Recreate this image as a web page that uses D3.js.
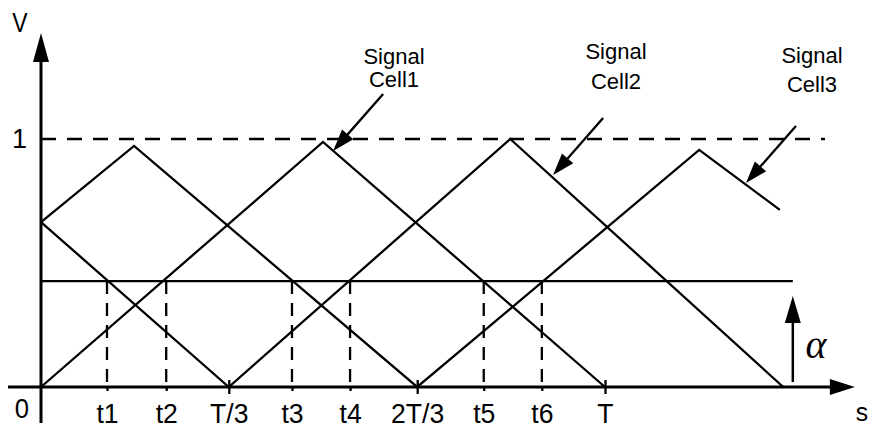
<!DOCTYPE html>
<html>
<head>
<meta charset="utf-8">
<script src="https://cdn.jsdelivr.net/npm/d3@7"></script>
<style>
  html, body { margin: 0; padding: 0; background: #fff; }
  svg { display: block; }
  text { font-family: "Liberation Sans", Arial, sans-serif; fill: #000; }
</style>
</head>
<body>
<svg id="chart" width="869" height="429"></svg>
<script>
// ---- data (time in units of T, voltage normalised) ----
const cell1 = [{t:0, v:0}, {t:0.5, v:0.988}, {t:1.0, v:0}];
const cell2 = [{t:0, v:0.665}, {t:0.333, v:0}, {t:0.832, v:1.0}, {t:1.316, v:0}];
const cell3 = [{t:0, v:0.665}, {t:0.165, v:0.972}, {t:0.667, v:0}, {t:1.167, v:0.956}, {t:1.31, v:0.714}];
const alphaLevel = 0.427;
const alphaEnd = 1.333;
const refLevel = 1.0;
const refEnd = 1.39;
const xTickValues = [0.117, 0.222, 0.333, 0.445, 0.548, 0.667, 0.785, 0.888, 1.0];
const xTickLabels = ["t1", "t2", "T/3", "t3", "t4", "2T/3", "t5", "t6", "T"];
const crossingTicks = ["t1", "t2", "t3", "t4", "t5", "t6"];
const yTickValues = [1];
const yTickLabels = ["1"];
const annotations = [
  {name: "Cell1", tip: {t:0.518, v:0.952}},
  {name: "Cell2", tip: {t:0.908, v:0.855}},
  {name: "Cell3", tip: {t:1.25,  v:0.823}}
];

// ---- layout ----
const svg = d3.select("#chart");
const x = d3.scaleLinear().domain([0, 1]).range([41, 605]);
const y = d3.scaleLinear().domain([0, 1]).range([387, 139]);
const line = d3.line().x(d => x(d.t)).y(d => y(d.v));
const FONT = "'Liberation Sans', Arial, sans-serif";

function arrowHead(tx, ty, dx, dy, L, W) {
  const len = Math.hypot(dx, dy); dx /= len; dy /= len;
  const nx = -dy, ny = dx;
  const bx = tx - dx * L, by = ty - dy * L;
  svg.append("path")
    .attr("d", `M${tx},${ty}L${bx + nx * W},${by + ny * W}L${bx - nx * W},${by - ny * W}Z`)
    .attr("fill", "#000");
}
function label(cx, by, txt, size, sx) {
  svg.append("text")
    .attr("transform", `translate(${cx},${by}) scale(${sx},1)`)
    .attr("text-anchor", "middle")
    .style("font-size", size + "px").style("font-family", FONT)
    .text(txt);
}

// reference level 1 (dashed)
svg.append("line")
  .attr("x1", x(0)).attr("x2", x(refEnd))
  .attr("y1", y(refLevel)).attr("y2", y(refLevel))
  .attr("stroke", "#000").attr("stroke-width", 2.4)
  .attr("stroke-dasharray", "15,11");

// alpha level
svg.append("line")
  .attr("x1", x(0)).attr("x2", x(alphaEnd))
  .attr("y1", y(alphaLevel)).attr("y2", y(alphaLevel))
  .attr("stroke", "#000").attr("stroke-width", 2.3);

// vertical dashed lines at crossing times
xTickValues.forEach((tv, i) => {
  if (crossingTicks.includes(xTickLabels[i])) {
    svg.append("line")
      .attr("x1", x(tv)).attr("x2", x(tv))
      .attr("y1", y(alphaLevel)).attr("y2", y(0))
      .attr("stroke", "#000").attr("stroke-width", 2.3)
      .attr("stroke-dasharray", "13,9");
  }
});

// carrier waves
[cell1, cell2, cell3].forEach(s => {
  svg.append("path").attr("d", line(s))
    .attr("fill", "none").attr("stroke", "#000")
    .attr("stroke-width", 2.3).attr("stroke-linejoin", "miter");
});

// x axis (ticks + labels through d3 axis)
const xAxis = d3.axisBottom(x)
  .tickValues(xTickValues)
  .tickFormat((d, i) => xTickLabels[i])
  .tickSize(7)
  .tickPadding(0);
const gx = svg.append("g").attr("transform", `translate(0,${y(0)})`).call(xAxis);
gx.select(".domain").remove();
gx.selectAll(".tick line")
  .attr("stroke", "#000").attr("stroke-width", 2.3)
  .attr("y1", (d, i) => crossingTicks.includes(xTickLabels[i]) ? 0 : -7)
  .attr("y2", (d, i) => crossingTicks.includes(xTickLabels[i]) ? 4 : 7);
gx.selectAll(".tick text")
  .attr("y", 0).attr("dy", "0")
  .attr("transform", "translate(0,36) scale(0.95,1)")
  .style("font-size", "28px")
  .style("font-family", FONT)
  .attr("fill", "#000");

// y axis (tick label "1" through d3 axis)
const yAxis = d3.axisLeft(y)
  .tickValues(yTickValues)
  .tickFormat((d, i) => yTickLabels[i])
  .tickSize(0)
  .tickPadding(14);
const gy = svg.append("g").attr("transform", `translate(${x(0)},0)`).call(yAxis);
gy.select(".domain").remove();
gy.selectAll(".tick text")
  .attr("dy", "0.3em")
  .style("font-size", "27px")
  .style("font-family", FONT)
  .attr("fill", "#000");

// axis lines with arrows
const xStart = -0.0585, xTip = 1.443;
const yBottom = -0.145, yTip = 1.427;
svg.append("line")
  .attr("x1", x(xStart)).attr("x2", x(xTip) - 20)
  .attr("y1", y(0)).attr("y2", y(0))
  .attr("stroke", "#000").attr("stroke-width", 3);
arrowHead(x(xTip), y(0), 1, 0, 25, 8);
svg.append("line")
  .attr("x1", x(0)).attr("x2", x(0))
  .attr("y1", y(yBottom)).attr("y2", y(yTip) + 24)
  .attr("stroke", "#000").attr("stroke-width", 3);
arrowHead(x(0), y(yTip), 0, -1, 29, 8);

// axis names and origin label
label(20, 32, "V", 28, 0.82);
label(22, 418, "0", 27, 0.95);
label(862, 421, "s", 26, 0.95);

// alpha arrow
const alphaArrowTop = 0.367, alphaArrowBottom = 0.02;
svg.append("line")
  .attr("x1", x(alphaEnd)).attr("x2", x(alphaEnd))
  .attr("y1", y(alphaArrowBottom)).attr("y2", y(alphaArrowTop) + 20)
  .attr("stroke", "#000").attr("stroke-width", 2.5);
arrowHead(x(alphaEnd), y(alphaArrowTop), 0, -1, 27, 8);
svg.append("text").attr("x", 816).attr("y", 358).attr("text-anchor", "middle")
  .style("font-family", "'Liberation Serif', 'Times New Roman', serif")
  .style("font-style", "italic").style("font-size", "40px").text("α");

// annotations
const annoText = {
  Cell1: {cx: 394, y1: 64, y2: 87},
  Cell2: {cx: 616, y1: 59, y2: 89},
  Cell3: {cx: 812, y1: 63, y2: 92}
};
annotations.forEach(a => {
  const tx = x(a.tip.t), ty = y(a.tip.v);
  const sx = tx + 50, sy = ty - 57;
  const dx = tx - sx, dy = ty - sy, len = Math.hypot(dx, dy);
  svg.append("line")
    .attr("x1", sx).attr("y1", sy)
    .attr("x2", tx - dx / len * 18).attr("y2", ty - dy / len * 18)
    .attr("stroke", "#000").attr("stroke-width", 2.3);
  arrowHead(tx, ty, dx, dy, 22, 7.5);
  const p = annoText[a.name];
  label(p.cx, p.y1, "Signal", 22, 1);
  label(p.cx, p.y2, a.name, 22, 1);
});
</script>
</body>
</html>
